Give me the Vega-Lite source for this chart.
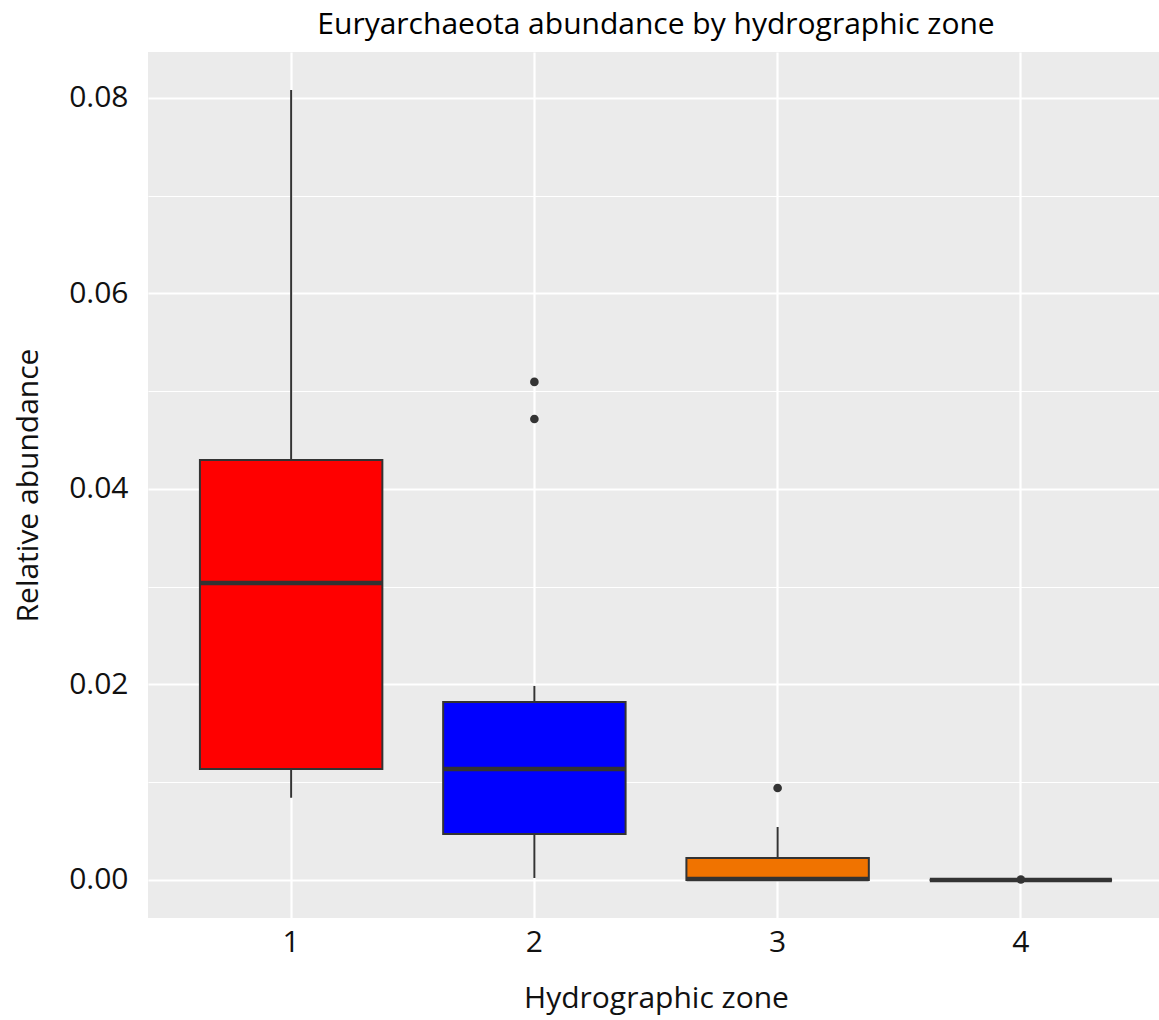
{
  "$schema": "https://vega.github.io/schema/vega-lite/v6.json",
  "autosize": {"type": "none"},
  "width": 1016,
  "height": 866,
  "padding": {"left": 148, "top": 52, "right": 0, "bottom": 102},
  "background": "white",
  "config": {"view": {"fill": "#EBEBEB", "stroke": null}, "font": "Open Sans"},
  "title": {"text": "Euryarchaeota abundance by hydrographic zone", "fontSize": 30, "fontWeight": "normal", "color": "black", "anchor": "middle", "offset": 12, "font": "Open Sans"},
  "datasets": {
    "boxes": [
      {"zone": "1", "lower": 0.0084, "q1": 0.01136, "median": 0.03038, "q3": 0.04297, "upper": 0.0808},
      {"zone": "2", "lower": 0.0002, "q1": 0.00471, "median": 0.01136, "q3": 0.01821, "upper": 0.01985},
      {"zone": "3", "lower": 0.0, "q1": 0.0, "median": 0.0001, "q3": 0.00225, "upper": 0.00542},
      {"zone": "4", "lower": 0.0, "q1": 0.0, "median": 0.0, "q3": 0.0, "upper": 0.0}
    ],
    "outliers": [
      {"zone": "2", "value": 0.05095},
      {"zone": "2", "value": 0.04716},
      {"zone": "3", "value": 0.00941},
      {"zone": "4", "value": 0.00005}
    ]
  },
  "layer": [
    {
      "data": {"name": "boxes"},
      "mark": {"type": "rule", "color": "#333333", "strokeWidth": 2},
      "encoding": {
        "x": {"field": "zone", "type": "nominal", "sort": ["1", "2", "3", "4"],
              "scale": {"type": "band", "paddingInner": 0.25, "paddingOuter": 0.2135},
              "axis": {"title": "Hydrographic zone", "labelAngle": 0, "ticks": false, "domain": false, "grid": true, "gridColor": "white", "gridWidth": 2.2,
                       "labelFontSize": 30, "labelColor": "#111111", "labelPadding": 9, "labelFont": "Open Sans",
                       "titleFontSize": 30, "titleFontWeight": "normal", "titleColor": "#111111", "titlePadding": 26, "titleFont": "Open Sans"}},
        "y": {"field": "lower", "type": "quantitative",
              "scale": {"domain": [-0.00389, 0.0847], "nice": false, "zero": false},
              "axis": {"title": "Relative abundance", "values": [0, 0.02, 0.04, 0.06, 0.08], "format": ".2f", "ticks": false, "domain": false,
                       "grid": true, "gridColor": "white", "gridWidth": 2.2,
                       "labelFontSize": 30, "labelColor": "#111111", "labelPadding": 20, "labelFont": "Open Sans",
                       "titleFontSize": 30, "titleFontWeight": "normal", "titleColor": "#111111", "titlePadding": 25, "titleFont": "Open Sans"}},
        "y2": {"field": "upper"}
      }
    },
    {
      "data": {"name": "boxes"},
      "mark": {"type": "bar", "stroke": "#333333", "strokeWidth": 2},
      "encoding": {
        "x": {"field": "zone", "type": "nominal", "sort": ["1", "2", "3", "4"]},
        "y": {"field": "q1", "type": "quantitative", "axis": null},
        "y2": {"field": "q3"},
        "color": {"field": "zone", "type": "nominal", "scale": {"domain": ["1", "2", "3", "4"], "range": ["#FF0000", "#0000FF", "#F07300", "#FFFFFF"]}, "legend": null}
      }
    },
    {
      "data": {"name": "boxes"},
      "mark": {"type": "tick", "color": "#333333", "thickness": 4.5, "size": 182, "opacity": 1},
      "encoding": {
        "x": {"field": "zone", "type": "nominal", "sort": ["1", "2", "3", "4"]},
        "y": {"field": "median", "type": "quantitative", "axis": null}
      }
    },
    {
      "data": {"name": "outliers"},
      "mark": {"type": "point", "filled": true, "color": "#333333", "size": 75, "opacity": 1},
      "encoding": {
        "x": {"field": "zone", "type": "nominal", "sort": ["1", "2", "3", "4"]},
        "y": {"field": "value", "type": "quantitative",
              "axis": {"orient": "right", "values": [0.01, 0.03, 0.05, 0.07], "labels": false, "ticks": false, "domain": false, "title": null,
                       "grid": true, "gridColor": "white", "gridWidth": 1.1}}
      }
    }
  ],
  "resolve": {"axis": {"y": "independent"}}
}
